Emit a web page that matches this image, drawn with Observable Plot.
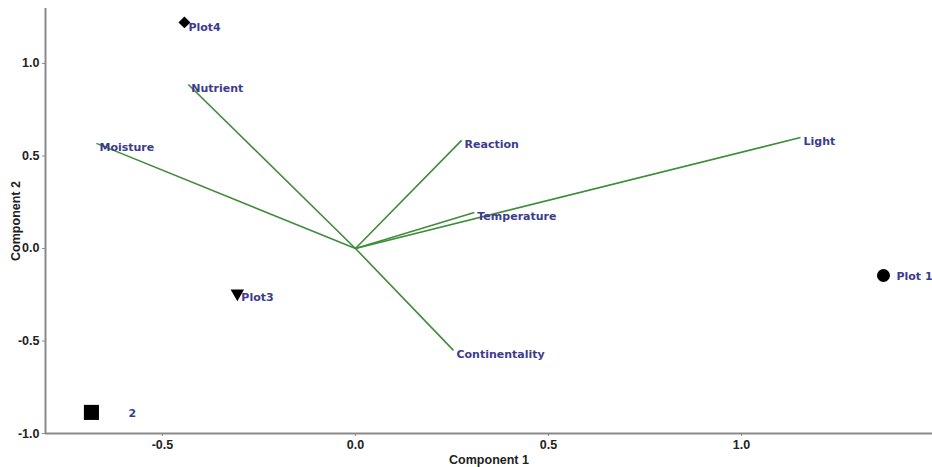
<!DOCTYPE html>
<html><head><meta charset="utf-8">
<script src="https://cdn.jsdelivr.net/npm/d3@7"></script>
<script src="https://cdn.jsdelivr.net/npm/@observablehq/plot@0.6"></script>
<style>
body{margin:0;background:#fff;}
#chart svg{font-family:"Liberation Sans",Arial,sans-serif;}
#chart svg [aria-label$="label"] text{font-size:12.5px;}
</style>
</head><body><div id="chart"></div>
<script>
// Variable loadings (vectors from origin)
const variables = ["Nutrient","Moisture","Reaction","Light","Temperature","Continentality"];
const loadX = [-0.433,-0.671,0.275,1.153,0.308,0.254];
const loadY = [0.886,0.568,0.584,0.600,0.195,-0.551];
// Plot (sample) scores
const plots = ["Plot 1","2","Plot3","Plot4"];
const scoreX = [1.368,-0.684,-0.306,-0.443];
const scoreY = [-0.146,-0.886,-0.243,1.222];
// Ticks
const xTicks = [-0.5,0,0.5,1.0];
const yTicks = [-1,-0.5,0,0.5,1];

const vectors = variables.map((name,i)=>({name,x:loadX[i],y:loadY[i]}));
const scores = plots.map((name,i)=>({name,x:scoreX[i],y:scoreY[i]}));
const pick = n => scores.filter(d=>d.name===n);

const xDomain = [-0.803,1.495];
const yDomain = [-1.0,1.297];
const labelColor = "#3c3c8e";
const green = "#3f8c3a";
const fmt = d => d.toFixed(1);
const lab = {textAnchor:"start", fill:labelColor, fontSize:11, fontWeight:"bold", fontFamily:"DejaVu Sans"};

const chart = Plot.plot({
  width: 932, height: 467,
  marginLeft: 45, marginRight: 0, marginTop: 8, marginBottom: 34,
  x: {domain: xDomain},
  y: {domain: yDomain},
  style: {background:"#fff", color:"#222"},
  marks: [
    Plot.ruleY([yDomain[0]], {stroke:"#8a8a8a", strokeWidth:2}),
    Plot.ruleX([xDomain[0]], {stroke:"#8a8a8a", strokeWidth:2}),
    Plot.axisX({ticks:xTicks, tickFormat:fmt, tickSize:3, tickPadding:4, stroke:"#8a8a8a",
      fontSize:11.5, fontWeight:"bold", label:"Component 1", labelAnchor:"center", labelArrow:"none", labelOffset:30}),
    Plot.axisY({ticks:yTicks, tickFormat:fmt, tickSize:3, tickPadding:3, stroke:"#8a8a8a",
      fontSize:11.5, fontWeight:"bold", label:"Component 2", labelAnchor:"center", labelArrow:"none", labelOffset:34}),
    Plot.link(vectors, {x1:0, y1:0, x2:"x", y2:"y", stroke:green, strokeWidth:1.6}),
    Plot.text(vectors, {x:"x", y:"y", text:"name", dx:3, dy:4, ...lab}),
    Plot.dot(pick("Plot 1"), {x:"x", y:"y", symbol:"circle", r:6.5, fill:"#000"}),
    Plot.dot(pick("2"), {x:"x", y:"y", symbol:"square", r:8.5, fill:"#000"}),
    Plot.dot(pick("Plot3"), {x:"x", y:"y", symbol:"triangle", r:5, fill:"#000", rotate:180}),
    Plot.dot(pick("Plot4"), {x:"x", y:"y", symbol:"diamond2", r:5.4, fill:"#000"}),
    Plot.text(pick("Plot 1"), {x:"x", y:"y", text:"name", dx:13, dy:1, ...lab}),
    Plot.text(pick("2"), {x:"x", y:"y", text:"name", dx:37, dy:1, ...lab}),
    Plot.text(pick("Plot3"), {x:"x", y:"y", text:"name", dx:4, dy:4, ...lab}),
    Plot.text(pick("Plot4"), {x:"x", y:"y", text:"name", dx:4, dy:5, ...lab})
  ]
});
document.getElementById("chart").appendChild(chart);
</script>
</body></html>
